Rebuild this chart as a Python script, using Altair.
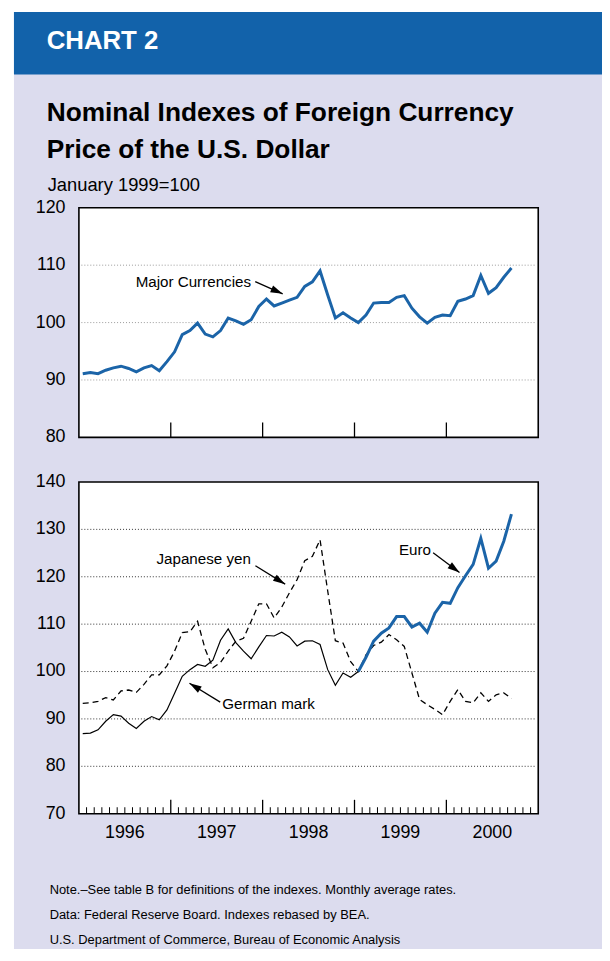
import math
import altair as alt
import pandas as pd

# ---------------- data ----------------
months = [f"{y}-{m:02d}" for y in range(1996, 2001) for m in range(1, 13)][:57]

major_currencies = [91.1, 91.3, 91.1, 91.7, 92.1, 92.4, 92.0, 91.4, 92.1, 92.5,
                    91.6, 93.2, 94.9, 97.9, 98.6, 99.9, 98.0, 97.5, 98.6, 100.8,
                    100.3, 99.7, 100.5, 102.8, 104.1, 102.9, 103.4, 103.9, 104.4, 106.3,
                    107.1, 109.0, 104.8, 100.8, 101.7, 100.8, 100.0, 101.3, 103.4, 103.5,
                    103.5, 104.4, 104.7, 102.5, 101.0, 99.9, 100.9, 101.3, 101.2, 103.7,
                    104.1, 104.7, 108.2, 105.1, 106.1, 107.9, 109.5]

japanese_yen = [93.3, 93.4, 93.7, 94.5, 94.0, 95.9, 96.1, 95.6, 97.3, 99.3,
                99.3, 101.2, 104.3, 108.2, 108.4, 110.6, 104.7, 100.8, 101.9, 104.3,
                106.4, 107.0, 110.6, 114.3, 114.3, 111.3, 113.6, 116.6, 119.4, 123.4,
                124.3, 127.8, 117.0, 106.5, 106.0, 102.1, 100.0, 103.5, 105.5, 106.2,
                107.8, 106.7, 105.3, 99.7, 94.1, 93.0, 92.0, 90.9, 93.7, 96.2,
                93.7, 93.4, 95.5, 93.7, 95.1, 95.5, 94.3]

german_mark = [86.9, 87.0, 87.7, 89.5, 90.9, 90.6, 89.1, 88.0, 89.5, 90.5,
               89.8, 91.9, 95.4, 99.0, 100.4, 101.5, 101.1, 102.4, 106.6, 109.0,
               106.1, 104.3, 102.7, 105.2, 107.6, 107.5, 108.3, 107.3, 105.4, 106.4,
               106.5, 105.7, 100.4, 97.1, 99.7, 98.8, 100.0]

euro = [100.0, 103.0, 106.4, 108.1, 109.2, 111.6, 111.6, 109.4, 110.2, 108.3,
        112.3, 114.6, 114.4, 117.7, 120.2, 122.6, 128.1, 121.8, 123.3, 127.5, 133.2]

years = ["1996", "1997", "1998", "1999", "2000"]
top_ticks = [80, 90, 100, 110, 120]
top_grid = [90, 100, 110]
bottom_ticks = [70, 80, 90, 100, 110, 120, 130, 140]
bottom_grid = [80, 90, 100, 110, 120, 130]

footnotes = ["Note.\u2013See table B for definitions of the indexes. Monthly average rates.",
             "Data: Federal Reserve Board. Indexes rebased by BEA.",
             "U.S. Department of Commerce, Bureau of Economic Analysis"]

# ---------------- style ----------------
FONT = "Liberation Sans"
BG = "#dcdcee"
HEADER = "#1262aa"
BLUE = "#1b64a8"
W, H = 599, 945

X_SCALE = alt.Scale(domain=[0, 60], range=[71.5, 534.7], nice=False, zero=False)
TOP_Y = alt.Scale(domain=[80, 120], range=[429, 197.5], nice=False, zero=False)
BOT_Y = alt.Scale(domain=[70, 140], range=[808.5, 474], nice=False, zero=False)


def pos(m):
    y, mo = m.split("-")
    return (int(y) - 1996) * 12 + int(mo) - 1 + 0.5


def series(ms, vals):
    df = pd.DataFrame({"month": ms, "value": vals})
    df["t"] = df["month"].map(pos)
    return df


major_df = series(months, major_currencies)
yen_df = series(months, japanese_yen)
mark_df = series(months[:len(german_mark)], german_mark)
euro_df = series(months[36:36 + len(euro)], euro)

one = pd.DataFrame({"a": [0]})

def xq(field="t"):
    return alt.X(f"{field}:Q", scale=X_SCALE, axis=None)


def text_layer(txt, x, y, size, weight="normal", color="black", align="left"):
    return alt.Chart(one).mark_text(
        text=txt, align=align, baseline="alphabetic", font=FONT,
        fontSize=size, fontWeight=weight, color=color
    ).encode(x=alt.value(x), y=alt.value(y))


layers = []

# background and header band
layers.append(alt.Chart(one).mark_rect(fill=BG).encode(
    x=alt.value(6), x2=alt.value(W), y=alt.value(0), y2=alt.value(H)))
layers.append(alt.Chart(one).mark_rect(fill=HEADER).encode(
    x=alt.value(6), x2=alt.value(W), y=alt.value(0), y2=alt.value(63)))
layers.append(text_layer("CHART 2", 39, 37.7, 26, "bold", "white"))
layers.append(text_layer("Nominal Indexes of Foreign Currency", 39, 110.3, 26.5, "bold"))
layers.append(text_layer("Price of the U.S. Dollar", 39, 147.7, 26.5, "bold"))
layers.append(text_layer("January 1999=100", 40, 180.3, 18.5))

# panel frames
frames_top = pd.DataFrame({"x0": [0], "x1": [60], "y0": [top_ticks[0]], "y1": [top_ticks[-1]]})
frames_bot = pd.DataFrame({"x0": [0], "x1": [60], "y0": [bottom_ticks[0]], "y1": [bottom_ticks[-1]]})
layers.append(alt.Chart(frames_top).mark_rect(fill="white", stroke="black", strokeWidth=1.6).encode(
    x=xq("x0"), x2="x1:Q", y=alt.Y("y0:Q", scale=TOP_Y, axis=None), y2="y1:Q"))
layers.append(alt.Chart(frames_bot).mark_rect(fill="white", stroke="black", strokeWidth=1.6).encode(
    x=xq("x0"), x2="x1:Q", y=alt.Y("y0:Q", scale=BOT_Y, axis=None), y2="y1:Q"))

# grid lines
layers.append(alt.Chart(pd.DataFrame({"v": top_grid})).mark_rule(
    color="#9a9a9a", strokeWidth=1, strokeDash=[1, 2]).encode(
    x=alt.value(74), x2=alt.value(532), y=alt.Y("v:Q", scale=TOP_Y, axis=None)))
layers.append(alt.Chart(pd.DataFrame({"v": bottom_grid})).mark_rule(
    color="#333333", strokeWidth=1, strokeDash=[1, 2]).encode(
    x=alt.value(74), x2=alt.value(532), y=alt.Y("v:Q", scale=BOT_Y, axis=None)))

# y labels
layers.append(alt.Chart(pd.DataFrame({"v": top_ticks})).mark_text(
    align="right", baseline="middle", font=FONT, fontSize=18, color="black").encode(
    x=alt.value(58), y=alt.Y("v:Q", scale=TOP_Y, axis=None), text="v:Q"))
layers.append(alt.Chart(pd.DataFrame({"v": bottom_ticks})).mark_text(
    align="right", baseline="middle", font=FONT, fontSize=18, color="black").encode(
    x=alt.value(58), y=alt.Y("v:Q", scale=BOT_Y, axis=None), text="v:Q"))

# x ticks
major_t = [12 * k for k in range(1, len(years))]
minor_t = [k for k in range(1, 60) if k % 12 != 0]
layers.append(alt.Chart(pd.DataFrame({"t": major_t})).mark_rule(color="black", strokeWidth=1.3).encode(
    x=xq(), y=alt.value(429), y2=alt.value(414)))
layers.append(alt.Chart(pd.DataFrame({"t": major_t})).mark_rule(color="black", strokeWidth=1.3).encode(
    x=xq(), y=alt.value(808.5), y2=alt.value(794.5)))
layers.append(alt.Chart(pd.DataFrame({"t": minor_t})).mark_rule(color="black", strokeWidth=1).encode(
    x=xq(), y=alt.value(808.5), y2=alt.value(802)))

# year labels
year_df = pd.DataFrame({"year": years, "t": [12 * k + 6 for k in range(len(years))]})
layers.append(alt.Chart(year_df).mark_text(
    align="center", baseline="alphabetic", font=FONT, fontSize=18, color="black").encode(
    x=xq(), y=alt.value(833), text="year:N"))

# data lines
layers.append(alt.Chart(major_df).mark_line(color=BLUE, strokeWidth=3).encode(
    x=xq(), y=alt.Y("value:Q", scale=TOP_Y, axis=None)))
layers.append(alt.Chart(yen_df).mark_line(color="black", strokeWidth=1.3, strokeDash=[6, 4]).encode(
    x=xq(), y=alt.Y("value:Q", scale=BOT_Y, axis=None)))
layers.append(alt.Chart(mark_df).mark_line(color="black", strokeWidth=1.2).encode(
    x=xq(), y=alt.Y("value:Q", scale=BOT_Y, axis=None)))
layers.append(alt.Chart(euro_df).mark_line(color=BLUE, strokeWidth=3).encode(
    x=xq(), y=alt.Y("value:Q", scale=BOT_Y, axis=None)))

# annotations
ANN = 15.3
layers.append(text_layer("Major Currencies", 128.7, 277.7, ANN))
layers.append(text_layer("Japanese yen", 149.7, 557, ANN))
layers.append(text_layer("German mark", 216, 702.7, ANN))
layers.append(text_layer("Euro", 394.3, 548, ANN))

arrows = [((249.3, 272.0), (277.0, 284.3)),
          ((249.5, 558.5), (279.5, 577.0)),
          ((214.0, 696.0), (183.0, 677.0)),
          ((428.7, 545.3), (455.3, 565.3))]
HEAD = "M0,0L0.6,2L-0.6,2Z"
for (tx, ty), (hx, hy) in arrows:
    ang = math.degrees(math.atan2(hx - tx, -(hy - ty))) % 360
    layers.append(alt.Chart(one).mark_rule(color="black", strokeWidth=1.3).encode(
        x=alt.value(tx), y=alt.value(ty), x2=alt.value(hx), y2=alt.value(hy)))
    layers.append(alt.Chart(one).mark_point(
        shape=HEAD, filled=True, color="black", opacity=1, size=150, angle=ang, strokeWidth=0).encode(
        x=alt.value(hx), y=alt.value(hy)))

# footnotes
for i, note in enumerate(footnotes):
    layers.append(text_layer(note, 42, 889.5 + 25 * i, 13))

chart = alt.layer(*layers).resolve_scale(y="independent").properties(
    width=W, height=H, autosize=alt.AutoSizeParams(type="none"), padding=0, background="white"
).configure_view(stroke="transparent")

chart.save("out.html", embed_options={"renderer": "svg", "actions": False})
